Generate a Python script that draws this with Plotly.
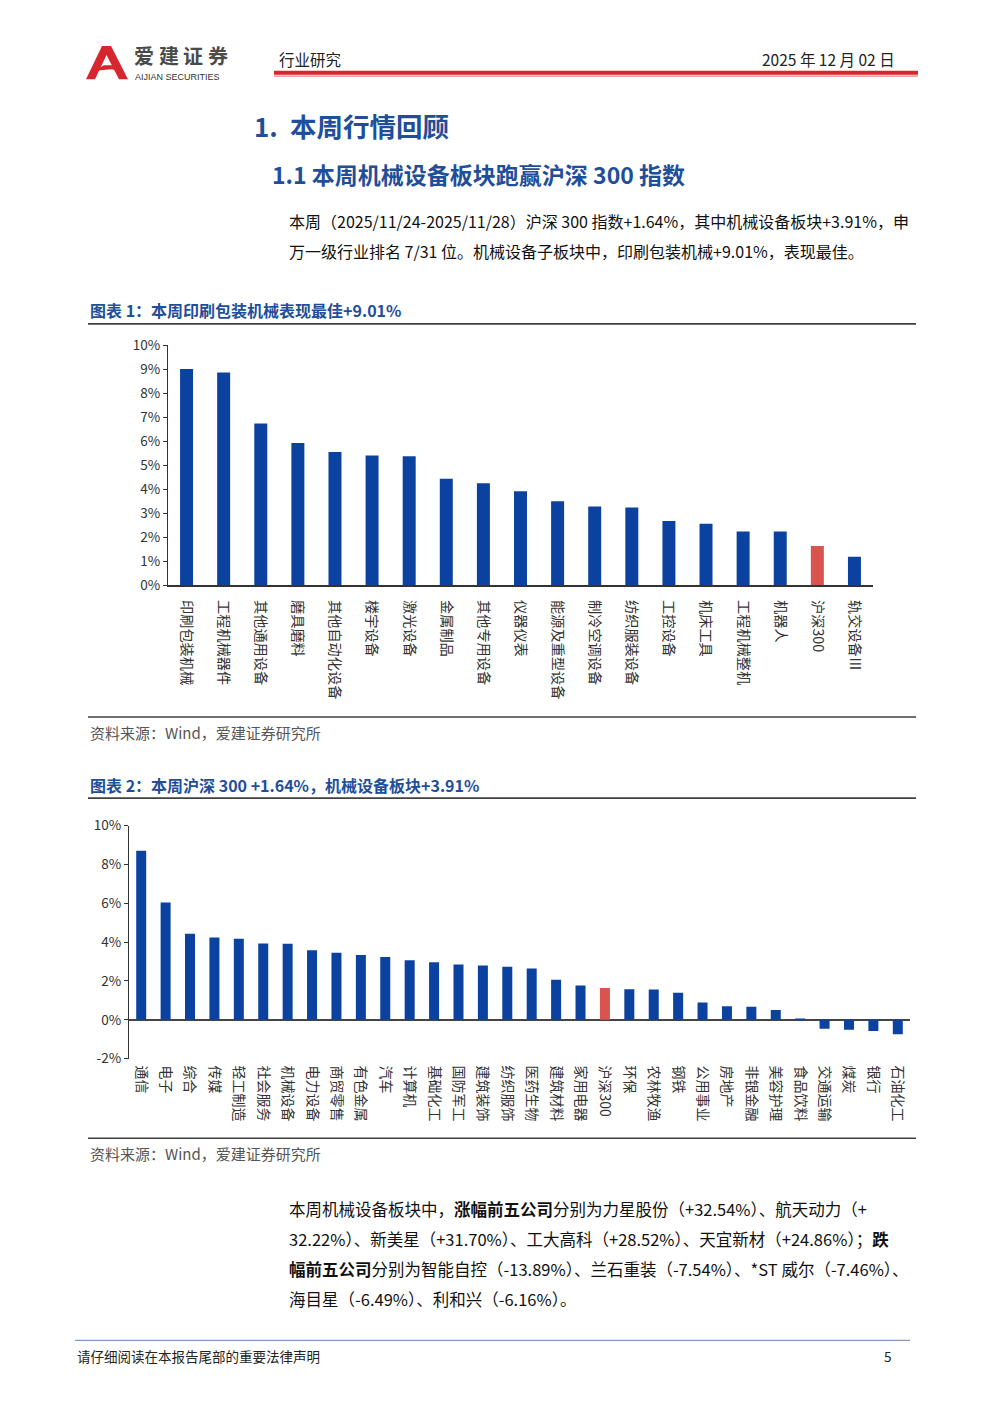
import plotly.graph_objects as go

W, H = 1000, 1414

# ---------------- data ----------------
cats1 = ["印刷包装机械", "工程机械器件", "其他通用设备", "磨具磨料", "其他自动化设备", "楼宇设备",
         "激光设备", "金属制品", "其他专用设备", "仪器仪表", "能源及重型设备", "制冷空调设备",
         "纺织服装设备", "工控设备", "机床工具", "工程机械整机", "机器人", "沪深300", "轨交设备Ⅲ"]
vals1 = [9.01, 8.87, 6.74, 5.93, 5.56, 5.41, 5.38, 4.44, 4.25, 3.92, 3.51, 3.29,
         3.24, 2.68, 2.57, 2.25, 2.25, 1.64, 1.19]

cats2 = ["通信", "电子", "综合", "传媒", "轻工制造", "社会服务", "机械设备", "电力设备", "商贸零售",
         "有色金属", "汽车", "计算机", "基础化工", "国防军工", "建筑装饰", "纺织服饰", "医药生物",
         "建筑材料", "家用电器", "沪深300", "环保", "农林牧渔", "钢铁", "公用事业", "房地产",
         "非银金融", "美容护理", "食品饮料", "交通运输", "煤炭", "银行", "石油化工"]
vals2 = [8.70, 6.04, 4.43, 4.24, 4.17, 3.93, 3.91, 3.58, 3.45, 3.34, 3.24, 3.07, 2.97, 2.85,
         2.80, 2.73, 2.64, 2.06, 1.77, 1.64, 1.58, 1.56, 1.39, 0.89, 0.70, 0.67, 0.50, 0.07,
         -0.46, -0.51, -0.58, -0.74]

ticks1 = [0, 1, 2, 3, 4, 5, 6, 7, 8, 9, 10]
ticks2 = [-2, 0, 2, 4, 6, 8, 10]

BLUE = "#0B42A0"
RED = "#D9534F"
HEAD = "#1F4E9A"
FONT = "Noto Sans CJK SC"


def px(x):
    return x / W


def py(y):
    # compensate the slight vertical fit observed in the page photo
    yy = (y - 11.9) / 0.9853
    return 1 - yy / H


def color_for(cats):
    return [RED if c == "沪深300" else BLUE for c in cats]


fig = go.Figure()
fig.add_trace(go.Bar(x=cats1, y=vals1, marker=dict(color=color_for(cats1), line_width=0),
                     xaxis="x", yaxis="y", showlegend=False, width=0.35, hoverinfo="skip"))
fig.add_trace(go.Bar(x=cats2, y=vals2, marker=dict(color=color_for(cats2), line_width=0),
                     xaxis="x2", yaxis="y2", showlegend=False, width=0.41, hoverinfo="skip"))

tickfont = dict(family=FONT, size=13.5, color="#333")

fig.update_layout(
    width=W, height=H, margin=dict(l=0, r=0, t=0, b=0),
    paper_bgcolor="white", plot_bgcolor="white",
    font=dict(family=FONT),
    xaxis=dict(domain=[px(168), px(873)], type="category", showline=True, linecolor="#333",
               linewidth=1.5, tickangle=90, ticks="outside", ticklen=10,
               tickcolor="rgba(0,0,0,0)", tickfont=dict(family=FONT, size=14.2, color="#333"),
               showgrid=False),
    yaxis=dict(domain=[py(586), py(346)], range=[0, 10], tickvals=ticks1,
               ticktext=[f"{t}%" for t in ticks1], showline=True, linecolor="#333",
               linewidth=1.2, ticks="outside", ticklen=4, tickcolor="#333",
               tickfont=tickfont, showgrid=False, zeroline=False, anchor="x"),
    xaxis2=dict(domain=[px(129), px(910)], type="category", showline=False, tickangle=90,
                ticks="outside", ticklen=3, tickcolor="rgba(0,0,0,0)",
                tickfont=dict(family=FONT, size=14, color="#333"), showgrid=False,
                anchor="y2"),
    yaxis2=dict(domain=[py(1059), py(826)], range=[-2, 10], tickvals=ticks2,
                ticktext=[f"{t}%" for t in ticks2], showline=True, linecolor="#333",
                linewidth=1.2, ticks="outside", ticklen=4, tickcolor="#333",
                tickfont=tickfont, showgrid=False, zeroline=True, zerolinecolor="#444",
                zerolinewidth=1.5, anchor="x2"),
)

shapes = []
annots = []


def line(x0, y0, x1, y1, color, width):
    shapes.append(dict(type="line", xref="paper", yref="paper", x0=px(x0), y0=py(y0),
                       x1=px(x1), y1=py(y1), line=dict(color=color, width=width)))


def text(x, y, s, size, color="#111", anchor="left", bold=False, family=FONT):
    if bold:
        s = f"<b>{s}</b>"
    annots.append(dict(xref="paper", yref="paper", x=px(x), y=py(y), text=s, showarrow=False,
                       xanchor=anchor, yanchor="middle",
                       font=dict(family=family, size=size, color=color)))


def path(points, color):
    d = "M " + " L ".join(f"{px(a):.5f},{py(b):.5f}" for a, b in points) + " Z"
    shapes.append(dict(type="path", xref="paper", yref="paper", path=d,
                       fillcolor=color, line=dict(width=0)))


# ----- header -----
path([(86, 80), (102, 47), (111, 47), (128, 80), (119, 80), (106.5, 56), (95, 80)], "#D7262D")
path([(92, 73), (104, 66), (116, 66), (121, 73), (112, 70), (100, 71)], "#D7262D")
for i, ch in enumerate("爱建证券"):
    text(132 + i * 24.5, 56.5, ch, 20, "#4a4a4a", bold=True)
text(133, 77.5, "AIJIAN SECURITIES", 9, "#333", family="Liberation Sans")
text(277, 60, "行业研究", 15.5, "#222")
text(897, 60, "2025 年 12 月 02 日", 15.5, "#222", anchor="right")
line(274, 73.5, 918, 73.5, "#D7262D", 4)
line(274, 77, 918, 77, "#E88A8A", 1.2)

# ----- headings -----
text(252, 126, "1.", 26, HEAD, bold=True)
text(288, 126, "本周行情回顾", 26.5, HEAD, bold=True)
text(270, 175, "1.1 本周机械设备板块跑赢沪深 300 指数", 23, HEAD, bold=True)
text(287, 222, "本周（2025/11/24-2025/11/28）沪深 300 指数+1.64%，其中机械设备板块+3.91%，申", 16)
text(287, 252, "万一级行业排名 7/31 位。机械设备子板块中，印刷包装机械+9.01%，表现最佳。", 16)

# ----- chart 1 frame -----
text(88, 311, "图表 1：本周印刷包装机械表现最佳+9.01%", 16, HEAD, bold=True)
line(88, 324.5, 916, 324.5, "#404040", 1.8)
line(88, 717.5, 916, 717.5, "#404040", 1.5)
text(88, 733, "资料来源：Wind，爱建证券研究所", 15, "#555")

# ----- chart 2 frame -----
text(88, 785, "图表 2：本周沪深 300 +1.64%，机械设备板块+3.91%", 16, HEAD, bold=True)
line(88, 798.5, 916, 798.5, "#404040", 1.8)
line(88, 1138.5, 916, 1138.5, "#404040", 1.5)
text(88, 1154, "资料来源：Wind，爱建证券研究所", 15, "#555")

# ----- paragraph -----
text(287, 1209, "本周机械设备板块中，<b>涨幅前五公司</b>分别为力星股份（+32.54%）、航天动力（+", 16.5)
text(287, 1239, "32.22%）、新美星（+31.70%）、工大高科（+28.52%）、天宜新材（+24.86%）；<b>跌</b>", 16.5)
text(287, 1269, "<b>幅前五公司</b>分别为智能自控（-13.89%）、兰石重装（-7.54%）、*ST 威尔（-7.46%）、", 16.5)
text(287, 1299, "海目星（-6.49%）、利和兴（-6.16%）。", 16.5)

# ----- footer -----
line(75, 1340.5, 910, 1340.5, "#7F9CC7", 1.2)
text(75, 1356, "请仔细阅读在本报告尾部的重要法律声明", 13.5, "#222")
text(894, 1356, "5", 13.5, "#222", anchor="right")

fig.update_layout(shapes=shapes, annotations=annots, hovermode=False)

post = (
    "var gd=document.getElementById('{plot_id}');"
    "document.documentElement.style.margin='0';document.documentElement.style.overflow='hidden';"
    "document.body.style.margin='0';document.body.style.padding='0';"
    "document.body.style.overflow='hidden';"
    "gd.style.position='absolute';gd.style.left='0px';gd.style.top='0px';"
)
fig.write_html("out.html", config={"displayModeBar": False, "responsive": False},
               post_script=post)
